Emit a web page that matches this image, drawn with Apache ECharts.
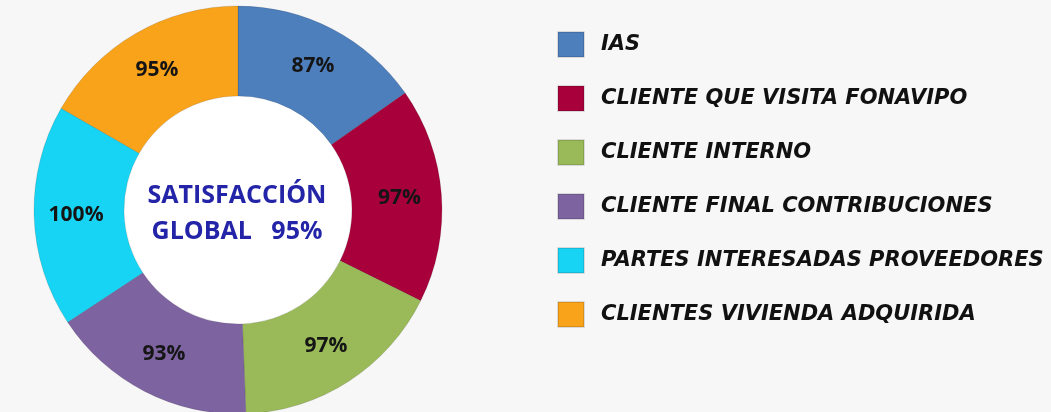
<!DOCTYPE html>
<html>
<head>
<meta charset="utf-8">
<script src="https://cdn.jsdelivr.net/npm/echarts@6/dist/echarts.min.js"></script>
<style>
    html, body { margin: 0; padding: 0; background: #f7f7f7; }
    #chart { width: 1051px; height: 412px; }
</style>
</head>
<body>
<div id="chart"></div>
<script>
// categorias y valores
var categories = ['IAS', 'CLIENTE QUE VISITA FONAVIPO', 'CLIENTE INTERNO',
    'CLIENTE FINAL CONTRIBUCIONES', 'PARTES INTERESADAS PROVEEDORES', 'CLIENTES VIVIENDA ADQUIRIDA'];
var values = [87, 97, 97, 93, 100, 95];
var colors = ['#4e7fbd', '#a8003a', '#9aba59', '#7e63a1', '#18d4f4', '#f9a31a'];
var centerLines = ['SATISFACCIÓN', 'GLOBAL   95%'];

var chart = echarts.init(document.getElementById('chart'));

var pieData = [];
for (var i = 0; i < categories.length; i++) {
    pieData.push({ name: categories[i], value: values[i], itemStyle: { color: colors[i] } });
}

var option = {
    backgroundColor: '#f7f7f7',
    animation: false,
    legend: {
        orient: 'vertical',
        left: 552,
        top: 26,
        itemWidth: 26,
        itemHeight: 25,
        itemGap: 27,
        icon: 'rect',
        textStyle: {
            fontFamily: 'DejaVu Sans',
            fontStyle: 'italic',
            fontWeight: 'bold',
            fontSize: 21,
            color: '#111',
            padding: [0, 0, 0, 12]
        },
        data: categories
    },
    graphic: [{
        type: 'circle',
        shape: { cx: 238, cy: 210, r: 116 },
        style: { fill: '#ffffff' },
        z: -1
    }, {
        type: 'text',
        x: 237,
        y: 214,
        style: {
            text: centerLines.join('\n'),
            align: 'center',
            verticalAlign: 'middle',
            fill: '#2424a8',
            font: 'bold 25px "Open Sans"',
            lineHeight: 36
        },
        z: 10
    }],
    series: [{
        type: 'pie',
        center: [238, 210],
        radius: [114, 204],
        startAngle: 90,
        clockwise: true,
        avoidLabelOverlap: false,
        label: {
            show: true,
            position: 'inside',
            formatter: '{c}%',
            fontFamily: 'Open Sans',
            fontWeight: 'bold',
            fontSize: 21,
            color: '#151515'
        },
        labelLine: { show: false },
        itemStyle: {
            borderColor: 'rgba(0,0,0,0.12)',
            borderWidth: 1
        },
        emphasis: { disabled: true },
        data: pieData
    }]
};

chart.setOption(option);
</script>
</body>
</html>
